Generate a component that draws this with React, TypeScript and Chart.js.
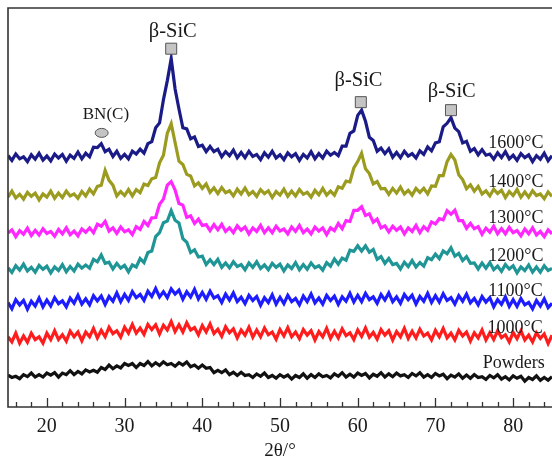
import React, { useEffect, useRef } from 'react';
import { Chart, registerables } from 'chart.js';

Chart.register(...registerables);

// 2θ sampling positions (degrees)
const TWO_THETA = [
  15, 15.5, 16, 16.5, 17, 17.5, 18, 18.5, 19, 19.5,
  20, 20.5, 21, 21.5, 22, 22.5, 23, 23.5, 24, 24.5,
  25, 25.5, 26, 26.5, 27, 27.5, 28, 28.5, 29, 29.5,
  30, 30.5, 31, 31.5, 32, 32.5, 33, 33.5, 34, 34.5,
  35, 35.5, 36, 36.5, 37, 37.5, 38, 38.5, 39, 39.5,
  40, 40.5, 41, 41.5, 42, 42.5, 43, 43.5, 44, 44.5,
  45, 45.5, 46, 46.5, 47, 47.5, 48, 48.5, 49, 49.5,
  50, 50.5, 51, 51.5, 52, 52.5, 53, 53.5, 54, 54.5,
  55, 55.5, 56, 56.5, 57, 57.5, 58, 58.5, 59, 59.5,
  60, 60.5, 61, 61.5, 62, 62.5, 63, 63.5, 64, 64.5,
  65, 65.5, 66, 66.5, 67, 67.5, 68, 68.5, 69, 69.5,
  70, 70.5, 71, 71.5, 72, 72.5, 73, 73.5, 74, 74.5,
  75, 75.5, 76, 76.5, 77, 77.5, 78, 78.5, 79, 79.5,
  80, 80.5, 81, 81.5, 82, 82.5, 83, 83.5, 84, 84.5,
  85,
];

// Offset intensities (a.u.)
const I_1600 = [
  63.0, 61.8, 63.4, 62.2, 62.7, 61.5, 63.2, 62.1, 63.6, 61.9,
  62.9, 61.7, 63.4, 62.4, 63.3, 61.6, 63.1, 62.3, 63.9, 62.2,
  63.6, 62.7, 65.1, 65.0, 66.0, 64.0, 64.6, 62.8, 64.1, 62.3,
  63.3, 62.2, 64.1, 63.4, 64.6, 63.6, 66.0, 66.5, 70.0, 71.2,
  77.0, 81.8, 87.3, 79.7, 74.7, 70.0, 69.7, 67.2, 67.7, 65.3,
  65.6, 64.0, 65.3, 64.0, 64.6, 62.7, 64.0, 63.0, 64.4, 62.5,
  63.8, 62.5, 64.1, 62.8, 63.3, 62.0, 63.7, 62.6, 64.1, 62.4,
  63.2, 62.0, 63.7, 62.7, 63.5, 61.8, 63.3, 62.4, 64.0, 62.2,
  63.5, 62.4, 64.1, 63.1, 63.8, 63.0, 65.4, 65.4, 68.6, 69.2,
  73.1, 74.4, 71.6, 67.6, 66.8, 64.1, 64.9, 63.5, 64.7, 62.6,
  63.8, 62.5, 64.1, 62.9, 63.5, 62.4, 64.2, 63.3, 65.2, 64.2,
  66.2, 66.5, 70.2, 71.1, 72.5, 69.9, 69.0, 66.2, 66.6, 64.1,
  64.8, 63.2, 64.5, 63.1, 63.4, 62.1, 63.7, 62.5, 64.0, 62.2,
  63.1, 61.8, 63.5, 62.5, 63.2, 61.5, 63.0, 62.1, 63.6, 61.7,
  63.0,
];
const I_1400 = [
  52.6, 54.1, 52.4, 53.3, 52.1, 53.8, 52.8, 53.6, 51.9, 53.4,
  52.6, 54.1, 52.3, 53.6, 52.5, 54.1, 52.9, 53.4, 52.3, 54.0,
  52.9, 54.6, 53.4, 55.3, 55.6, 59.3, 56.8, 55.6, 52.9, 54.0,
  53.0, 54.5, 52.9, 54.5, 53.7, 55.9, 55.5, 57.2, 57.5, 61.2,
  63.1, 68.6, 71.0, 66.3, 61.6, 60.8, 58.3, 57.9, 55.4, 56.2,
  54.8, 55.9, 53.8, 54.9, 53.5, 55.0, 53.7, 54.2, 52.9, 54.6,
  53.4, 54.9, 53.2, 54.0, 52.8, 54.5, 53.5, 54.2, 52.5, 54.0,
  53.1, 54.6, 52.8, 54.1, 52.9, 54.5, 53.3, 53.8, 52.6, 54.3,
  53.2, 54.8, 53.1, 54.1, 53.1, 55.2, 54.8, 56.6, 56.4, 59.9,
  61.5, 63.6, 59.7, 58.5, 55.9, 56.5, 54.7, 54.8, 53.3, 54.8,
  53.6, 55.1, 53.4, 54.3, 53.1, 54.8, 53.8, 54.8, 53.4, 55.4,
  55.3, 58.0, 58.0, 61.5, 63.3, 61.9, 58.2, 57.0, 54.7, 55.7,
  54.1, 55.3, 53.4, 54.2, 52.9, 54.6, 53.5, 54.3, 52.5, 54.0,
  53.0, 54.5, 52.6, 53.9, 52.6, 54.2, 53.0, 53.4, 52.2, 53.9,
  52.8,
];
const I_1300 = [
  43.6, 44.4, 42.7, 44.2, 43.3, 44.8, 43.0, 44.3, 43.1, 44.7,
  43.5, 44.0, 42.8, 44.5, 43.4, 44.9, 43.2, 44.1, 42.9, 44.6,
  43.8, 44.9, 43.7, 45.8, 45.3, 46.5, 44.1, 44.9, 43.5, 45.1,
  43.9, 44.4, 43.2, 45.2, 44.5, 46.5, 45.5, 47.4, 47.5, 50.8,
  52.1, 55.6, 56.5, 54.4, 51.0, 50.6, 47.5, 47.9, 46.0, 47.1,
  45.5, 45.7, 44.2, 45.7, 44.4, 45.8, 44.0, 44.9, 43.7, 45.4,
  44.3, 45.1, 43.4, 44.9, 44.0, 45.5, 43.7, 44.9, 43.7, 45.3,
  44.1, 44.6, 43.4, 45.1, 44.0, 45.5, 43.7, 44.6, 43.4, 45.1,
  44.1, 44.9, 43.2, 44.9, 44.2, 46.0, 44.7, 46.7, 46.5, 49.3,
  49.3, 50.2, 48.0, 48.4, 46.3, 47.1, 44.9, 45.4, 43.9, 45.3,
  44.3, 45.1, 43.4, 44.9, 44.0, 45.5, 43.7, 45.2, 44.3, 46.4,
  45.9, 47.2, 46.9, 49.2, 48.3, 49.3, 46.7, 46.7, 44.8, 46.0,
  44.7, 45.2, 43.3, 44.8, 43.8, 45.3, 43.4, 44.7, 43.4, 45.0,
  43.7, 44.2, 42.9, 44.6, 43.4, 44.9, 43.1, 44.0, 42.7, 44.4,
  43.4,
];
const I_1200 = [
  34.9, 33.7, 35.4, 34.3, 35.8, 34.1, 35.0, 33.8, 35.5, 34.5,
  35.3, 33.6, 35.1, 34.2, 35.7, 33.9, 35.2, 34.1, 35.8, 34.8,
  35.6, 34.8, 37.0, 36.4, 38.1, 36.0, 36.3, 34.6, 36.0, 34.8,
  35.5, 33.9, 35.6, 35.1, 37.2, 36.2, 38.7, 39.1, 42.7, 43.7,
  46.2, 46.6, 49.2, 46.8, 46.1, 42.2, 41.3, 38.7, 39.4, 37.6,
  37.8, 35.7, 36.9, 35.7, 37.0, 35.0, 36.1, 34.9, 36.4, 35.2,
  35.7, 34.4, 36.1, 35.0, 36.4, 34.7, 35.6, 34.4, 36.0, 35.0,
  35.8, 34.1, 35.6, 34.7, 36.2, 34.4, 35.7, 34.5, 36.1, 34.9,
  35.4, 34.3, 36.2, 35.3, 37.1, 35.8, 37.3, 36.8, 39.3, 39.0,
  40.4, 39.1, 40.4, 38.8, 39.5, 37.0, 37.7, 36.0, 37.2, 35.7,
  36.0, 34.6, 36.3, 35.2, 36.7, 35.1, 36.2, 35.3, 37.4, 36.9,
  38.3, 37.2, 39.1, 38.4, 39.9, 37.8, 38.5, 36.7, 37.7, 36.0,
  36.1, 34.6, 36.1, 34.8, 36.2, 34.4, 35.3, 34.0, 35.7, 34.6,
  35.4, 33.6, 35.1, 34.2, 35.6, 33.8, 35.1, 33.8, 35.4, 34.2,
  34.7,
];
const I_1100 = [
  26.2, 24.6, 26.9, 25.6, 26.7, 24.5, 26.5, 25.3, 27.3, 25.1,
  26.8, 25.3, 27.4, 25.9, 26.6, 25.1, 27.3, 26.0, 28.0, 25.8,
  27.1, 25.6, 27.9, 26.6, 27.8, 25.7, 27.7, 26.5, 28.6, 26.4,
  28.2, 26.7, 28.9, 27.4, 28.2, 26.7, 29.0, 27.7, 29.7, 27.6,
  28.9, 27.4, 29.6, 28.3, 29.3, 27.0, 28.9, 27.6, 29.5, 27.1,
  28.7, 27.0, 29.0, 27.3, 27.9, 26.2, 28.3, 26.8, 28.6, 26.4,
  27.5, 25.9, 28.0, 26.7, 27.7, 25.5, 27.4, 26.2, 28.1, 25.8,
  27.5, 25.9, 28.0, 26.4, 27.2, 25.6, 27.8, 26.4, 28.3, 26.1,
  27.3, 25.8, 28.0, 26.7, 27.8, 25.7, 27.6, 26.5, 28.5, 26.3,
  28.0, 26.4, 28.5, 26.9, 27.6, 26.0, 28.2, 26.8, 28.6, 26.4,
  27.6, 26.0, 28.2, 26.9, 28.0, 25.8, 27.7, 26.5, 28.5, 26.2,
  27.9, 26.3, 28.4, 26.7, 27.4, 25.8, 27.9, 26.5, 28.3, 26.1,
  27.2, 25.6, 27.7, 26.3, 27.4, 25.1, 26.9, 25.7, 27.6, 25.2,
  26.9, 25.2, 27.2, 25.6, 26.2, 24.6, 26.7, 25.3, 27.1, 24.9,
  26.0,
];
const I_1000 = [
  17.6, 16.3, 18.5, 16.0, 17.8, 16.2, 18.5, 16.9, 17.6, 16.0,
  18.5, 16.9, 19.1, 16.9, 18.1, 16.5, 19.0, 17.6, 18.8, 16.6,
  18.8, 17.6, 19.7, 17.3, 19.2, 17.6, 20.0, 18.4, 19.1, 17.5,
  20.0, 18.5, 20.7, 18.5, 19.8, 18.2, 20.7, 19.4, 20.6, 18.3,
  20.5, 19.3, 21.4, 18.9, 20.6, 18.8, 21.1, 19.3, 19.9, 18.1,
  20.4, 18.8, 20.8, 18.4, 19.5, 17.7, 20.1, 18.6, 19.6, 17.3,
  19.3, 18.0, 20.0, 17.5, 19.3, 17.6, 19.8, 18.1, 18.8, 17.0,
  19.4, 17.8, 19.9, 17.6, 18.8, 17.1, 19.4, 18.0, 19.1, 16.8,
  18.9, 17.6, 19.7, 17.2, 19.0, 17.3, 19.6, 17.9, 18.6, 16.9,
  19.3, 17.7, 19.8, 17.5, 18.7, 17.0, 19.4, 18.0, 19.1, 16.8,
  18.9, 17.6, 19.7, 17.2, 19.0, 17.3, 19.5, 17.8, 18.5, 16.8,
  19.2, 17.6, 19.7, 17.3, 18.5, 16.8, 19.2, 17.8, 18.8, 16.5,
  18.6, 17.3, 19.3, 16.8, 18.6, 16.9, 19.1, 17.4, 18.1, 16.3,
  18.7, 17.1, 19.1, 16.8, 18.0, 16.3, 18.6, 17.2, 18.3, 15.9,
  18.0,
];
const I_POWDERS = [
  8.0, 7.4, 7.7, 7.1, 8.1, 7.6, 8.5, 7.5, 8.1, 7.5,
  8.5, 8.0, 8.6, 7.5, 8.5, 8.1, 9.1, 8.1, 8.9, 8.3,
  9.3, 8.8, 9.2, 8.7, 9.9, 9.4, 10.5, 9.6, 10.3, 9.8,
  10.9, 10.4, 10.9, 9.9, 10.9, 10.4, 11.4, 10.3, 11.1, 10.4,
  11.3, 10.6, 10.9, 10.2, 11.1, 10.5, 11.3, 10.1, 10.5, 9.7,
  10.5, 9.7, 9.9, 8.6, 9.2, 8.6, 9.3, 8.1, 8.7, 7.9,
  8.7, 7.9, 8.1, 7.4, 8.3, 7.7, 8.5, 7.4, 7.9, 7.2,
  8.1, 7.5, 8.0, 7.0, 7.9, 7.4, 8.3, 7.2, 8.1, 7.4,
  8.3, 7.6, 7.9, 7.3, 8.3, 7.7, 8.6, 7.5, 8.2, 7.5,
  8.5, 7.9, 8.4, 7.3, 8.2, 7.7, 8.6, 7.5, 8.3, 7.6,
  8.5, 7.8, 8.1, 7.4, 8.4, 7.8, 8.6, 7.5, 8.1, 7.4,
  8.4, 7.8, 8.2, 7.1, 8.0, 7.5, 8.3, 7.2, 8.0, 7.2,
  8.1, 7.4, 7.6, 6.9, 7.9, 7.3, 8.1, 7.0, 7.6, 6.8,
  7.8, 7.2, 7.7, 6.5, 7.4, 6.9, 7.8, 6.7, 7.4, 6.7,
  7.6,
];

// Series (Powders first so that lower curves are painted on top)
const SERIES_NAMES = ['Powders', '1000°C', '1100°C', '1200°C', '1300°C', '1400°C', '1600°C'];
const SERIES_VALUES = [I_POWDERS, I_1000, I_1100, I_1200, I_1300, I_1400, I_1600];
const SERIES_COLORS = ['#111111', '#ff1c1c', '#1c1cff', '#1f9595', '#ff26ff', '#9b9b1f', '#1b1b88'];

// Curve labels (data coordinates of left edge / vertical centre)
const LABEL_X = [76.1, 76.7, 76.8, 76.8, 76.8, 76.8, 76.8];
const LABEL_Y = [11.0, 19.8, 29.1, 37.8, 47.4, 56.4, 66.2];

// Phase annotations
const ANNOT_TEXT = ['β-SiC', 'β-SiC', 'β-SiC', 'BN(C)'];
const ANNOT_TEXT_X = [36.2, 60.1, 72.1, 27.6];
const ANNOT_TEXT_Y = [94.1, 81.7, 79.1, 73.2];
const MARK_SHAPE = ['square', 'square', 'square', 'ellipse'];
const MARK_X = [36.0, 60.4, 72.0, 27.05];
const MARK_Y = [89.8, 76.4, 74.4, 68.7];

// Axis
const X_MIN = 15;
const X_MAX = 85;
const X_TICKS = [16, 18, 20, 22, 24, 26, 28, 30, 32, 34, 36, 38, 40, 42, 44, 46, 48, 50,
  52, 54, 56, 58, 60, 62, 64, 66, 68, 70, 72, 74, 76, 78, 80, 82, 84];
const X_LABELED = [20, 30, 40, 50, 60, 70, 80];
const X_LABEL = '2θ/°';

const SERIF = '"Liberation Serif", "Times New Roman", serif';

const decorPlugin = {
  id: 'decor',
  afterDatasetsDraw(chart: any) {
    const { ctx, chartArea, scales } = chart;
    const xs = scales.x;
    const ys = scales.y;
    const { left, top, right, bottom } = chartArea;
    ctx.save();

    // frame (right side lies beyond the picture edge)
    ctx.strokeStyle = '#333333';
    ctx.lineWidth = 1.6;
    ctx.beginPath();
    ctx.moveTo(right + 2, bottom);
    ctx.lineTo(left, bottom);
    ctx.lineTo(left, top);
    ctx.lineTo(right + 2, top);
    ctx.stroke();

    // inward ticks
    ctx.lineWidth = 1.3;
    for (const t of xs.ticks) {
      const v = t.value;
      const px = Math.round(xs.getPixelForValue(v)) + 0.5;
      const len = X_LABELED.includes(v) ? 9 : 5;
      ctx.beginPath();
      ctx.moveTo(px, bottom);
      ctx.lineTo(px, bottom - len);
      ctx.stroke();
    }

    // markers
    for (let i = 0; i < MARK_X.length; i++) {
      const cx = xs.getPixelForValue(MARK_X[i]);
      const cy = ys.getPixelForValue(MARK_Y[i]);
      ctx.fillStyle = '#c4c4c4';
      ctx.strokeStyle = '#555555';
      ctx.lineWidth = 1;
      ctx.beginPath();
      if (MARK_SHAPE[i] === 'square') {
        ctx.rect(cx - 5.5, cy - 5.5, 11, 11);
      } else {
        ctx.ellipse(cx, cy, 6.5, 4.5, 0, 0, Math.PI * 2);
      }
      ctx.fill();
      ctx.stroke();
    }

    // annotation texts
    ctx.fillStyle = '#1a1a1a';
    ctx.textAlign = 'center';
    ctx.textBaseline = 'middle';
    for (let i = 0; i < ANNOT_TEXT.length; i++) {
      ctx.font = (ANNOT_TEXT[i] === 'BN(C)' ? '17px ' : '20.5px ') + SERIF;
      ctx.fillText(ANNOT_TEXT[i], xs.getPixelForValue(ANNOT_TEXT_X[i]), ys.getPixelForValue(ANNOT_TEXT_Y[i]));
    }

    // curve labels
    ctx.textAlign = 'left';
    ctx.font = '18px ' + SERIF;
    for (let i = 0; i < SERIES_NAMES.length; i++) {
      ctx.fillText(SERIES_NAMES[i], xs.getPixelForValue(LABEL_X[i]), ys.getPixelForValue(LABEL_Y[i]));
    }
    ctx.restore();
  },
};

export default function App() {
  const ref = useRef<HTMLCanvasElement>(null);
  useEffect(() => {
    const canvas = ref.current;
    if (!canvas) return;
    const chart = new Chart(canvas, {
      type: 'line',
      data: {
        datasets: SERIES_VALUES.map((vals, si) => ({
          label: SERIES_NAMES[si],
          data: vals.map((y, i) => ({ x: TWO_THETA[i], y })),
          borderColor: SERIES_COLORS[si],
          borderWidth: 3.2,
          borderJoinStyle: 'miter',
          pointRadius: 0,
          tension: 0,
          fill: false,
        })),
      },
      options: {
        animation: false,
        responsive: false,
        maintainAspectRatio: false,
        events: [],
        layout: { padding: { left: 8, top: 8, right: 0, bottom: 0 } },
        plugins: { legend: { display: false }, tooltip: { enabled: false } },
        scales: {
          x: {
            type: 'linear',
            min: X_MIN,
            max: X_MAX,
            afterBuildTicks: (scale: any) => {
              scale.ticks = X_TICKS.map((v) => ({ value: v }));
            },
            afterFit: (scale: any) => {
              scale.height = 55;
            },
            grid: {
              display: true,
              drawOnChartArea: false,
              drawTicks: true,
              tickLength: 8,
              color: 'rgba(0,0,0,0)',
              tickColor: 'rgba(0,0,0,0)',
            },
            border: { display: false },
            ticks: {
              autoSkip: false,
              maxRotation: 0,
              minRotation: 0,
              padding: 0,
              color: '#1a1a1a',
              font: { family: SERIF, size: 20 },
              callback: (v: any) => (X_LABELED.includes(Number(v)) ? String(v) : ''),
            },
            title: {
              display: true,
              text: X_LABEL,
              color: '#1a1a1a',
              font: { family: SERIF, size: 19 },
              padding: { top: 0, bottom: 0 },
            },
          },
          y: { display: false, min: 0, max: 100 },
        },
      },
      plugins: [decorPlugin],
    } as any);
    return () => chart.destroy();
  }, []);
  return (
    <div style={{ position: 'fixed', left: 0, top: 0, width: 552, height: 462, background: '#ffffff' }}>
      <canvas ref={ref} width={552} height={462} style={{ display: 'block', width: 552, height: 462 }} />
    </div>
  );
}
